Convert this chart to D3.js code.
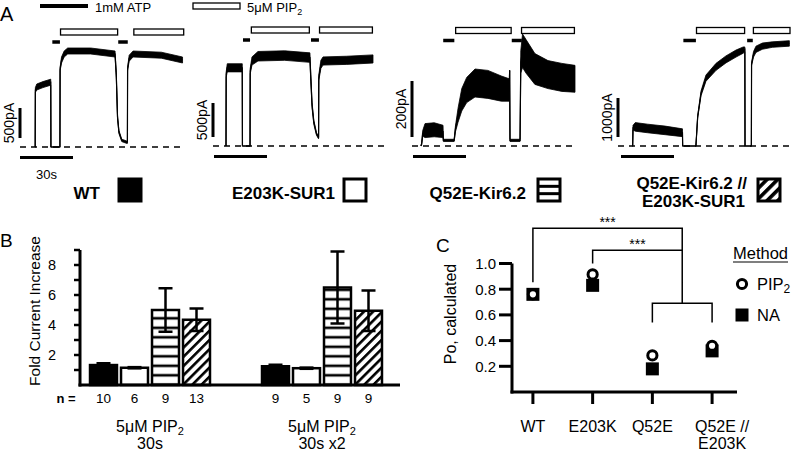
<!DOCTYPE html>
<html>
<head>
<meta charset="utf-8">
<script src="https://cdn.jsdelivr.net/npm/d3@7"></script>
<style>
  body { margin: 0; background: #fff; }
  svg { font-family: "Liberation Sans", Arial, sans-serif; }
</style>
</head>
<body>
<svg id="fig" width="794" height="452"></svg>
<script>
// ---------------- data ----------------
var construct = ["WT", "E203K-SUR1", "Q52E-Kir6.2", "Q52E-Kir6.2 //|E203K-SUR1"];
var agentLabels = ["1mM ATP", "5\u03bcM PIP_2"];
var scaleBarPA = [500, 500, 200, 1000];
var timeBarS = 30;

// current traces: [time (s), mean current (pA), noise half-width (pA)]
var traceWT = [
  [8.5, 0, 0], [8.6, 0, 0], [8.7, 950, 40], [9.5, 1000, 50], [13, 1040, 50], [17.4, 1080, 50],
  [17.5, 0, 0], [22.6, 0, 0], [22.7, 1300, 30], [23.5, 1450, 50], [25, 1550, 50], [27, 1600, 50],
  [40, 1600, 50], [53.8, 1550, 50], [54.5, 1200, 40], [55.2, 500, 30], [56, 250, 25], [57.6, 110, 20],
  [60.4, 80, 20], [60.8, 80, 20], [60.9, 1300, 30], [61.8, 1480, 50], [64, 1550, 50], [80, 1530, 50],
  [92, 1450, 50]
];
var traceE203K = [
  [6.8, 0, 0], [6.9, 1050, 40], [7.5, 1150, 60], [16, 1150, 60], [16.1, 0, 0], [20.4, 0, 0],
  [20.5, 1100, 40], [21.5, 1250, 60], [24.9, 1320, 70], [40, 1330, 70], [54.3, 1300, 70],
  [54.8, 1000, 50], [55.5, 600, 40], [56.5, 350, 30], [58, 180, 20], [59.2, 120, 15],
  [59.3, 1000, 40], [60.5, 1200, 60], [61.7, 1250, 60], [75, 1260, 60], [90, 1280, 60]
];
var traceQ52E = [
  [4.5, 0, 0], [4.9, 8, 4], [5.5, 45, 10], [6.8, 55, 25], [12, 58, 25], [17, 52, 22],
  [17.2, 20, 4], [23.3, 20, 4], [24, 60, 10], [25.5, 110, 25], [27.6, 165, 40], [30.4, 200, 45],
  [35.1, 225, 50], [42.4, 220, 50], [50, 205, 45], [54.5, 200, 40], [54.7, 270, 0],
  [54.9, 20, 4], [60.6, 20, 4], [61, 300, 40], [62, 340, 60], [64, 320, 60], [69, 275, 55],
  [76.4, 255, 50], [84.3, 245, 50], [91.7, 240, 48]
];
var traceQ52E_E203K = [
  [6.4, 0, 0], [6.6, 0, 0], [6.8, 470, 60], [8.1, 490, 110], [15, 450, 110], [25, 400, 110],
  [34.8, 340, 100], [34.9, 0, 0], [42.4, 0, 0], [43.4, 750, 30], [45.3, 1350, 60],
  [48.1, 1740, 80], [53.8, 2030, 90], [59.4, 2220, 90], [65.1, 2370, 90], [69.2, 2460, 80],
  [70.1, 2480, 60], [70.2, 0, 0], [73.8, 0, 0], [73.9, 2100, 40], [75, 2350, 70],
  [76.4, 2480, 80], [80, 2560, 80], [85.6, 2600, 70], [95.3, 2630, 70]
];
var traces = [traceWT, traceE203K, traceQ52E, traceQ52E_E203K];

// application intervals (s)
var atpOn = [[[18.3, 22.6], [55.6, 61.0]], [[16.4, 20.4], [54.9, 59.4]],
             [[17.1, 23.4], [55.9, 61.6]], [[35.3, 42.4], [71.4, 74.6]]];
var pipOn = [[[22.6, 55.6], [64.1, 93.0]], [[20.8, 54.3], [59.4, 90.0]],
             [[23.8, 55.9], [61.1, 91.7]], [[42.4, 70.3], [74.6, 96.0]]];

// panel B
var foldGroups = ["5\u03bcM PIP_2|30s", "5\u03bcM PIP_2|30s x2"];
var foldMean = [[1.33, 1.15, 5.0, 4.35], [1.25, 1.12, 6.5, 4.95]];
var foldErr  = [[0.12, 0.04, 1.45, 0.75], [0.1, 0.04, 2.4, 1.35]];
var nCells   = [[10, 6, 9, 13], [9, 5, 9, 9]];
var foldTicks = [2, 4, 6, 8];

// panel C
var poCats = ["WT", "E203K", "Q52E", "Q52E //|E203K"];
var poPIP2 = [0.76, 0.915, 0.285, 0.36];
var poNA   = [0.76, 0.83, 0.18, 0.32];
var poTicks = [0.2, 0.4, 0.6, 0.8, 1.0];
var methods = ["PIP_2", "NA"];

// ---------------- layout ----------------
var traceLayout = [
  { x0: 20,  base: 147, barPx: 30, sbX: 20,  dashEnd: 185, top: 29,   legBox: 119, legText: 100 },
  { x0: 214, base: 146, barPx: 34, sbX: 213, dashEnd: 385, top: 27,   legBox: 344, legText: 335 },
  { x0: 413, base: 146, barPx: 56, sbX: 412, dashEnd: 575, top: 27.5, legBox: 538, legText: 526 },
  { x0: 621, base: 146, barPx: 39, sbX: 618, dashEnd: 792, top: 27.5, legBox: 758, legText: 747 }
];
var timeBarPx = 53;

var svg = d3.select("#fig");

// pattern defs
var defs = svg.append("defs");
var hp = defs.append("pattern").attr("id", "hstripe").attr("patternUnits", "userSpaceOnUse")
  .attr("width", 10).attr("height", 9.5);
hp.append("rect").attr("width", 10).attr("height", 9.5).attr("fill", "#fff");
hp.append("rect").attr("y", 3.5).attr("width", 10).attr("height", 2.6).attr("fill", "#000");
var dp = defs.append("pattern").attr("id", "diag").attr("patternUnits", "userSpaceOnUse")
  .attr("width", 6.5).attr("height", 6.5).attr("patternTransform", "rotate(45)");
dp.append("rect").attr("width", 6.5).attr("height", 6.5).attr("fill", "#fff");
dp.append("rect").attr("width", 2.6).attr("height", 6.5).attr("fill", "#000");
var dpL = defs.append("pattern").attr("id", "diagL").attr("patternUnits", "userSpaceOnUse")
  .attr("width", 7.5).attr("height", 7.5).attr("patternTransform", "rotate(45)");
dpL.append("rect").attr("width", 7.5).attr("height", 7.5).attr("fill", "#fff");
dpL.append("rect").attr("width", 3.6).attr("height", 7.5).attr("fill", "#000");

var fills = ["#000", "#fff", "url(#hstripe)", "url(#diag)"];

// text with "_2" subscripts
function richText(sel, str, subSize) {
  var parts = str.split(/_(\d)/);
  parts.forEach(function(p, k) {
    if (!p) return;
    if (k % 2 === 1) {
      sel.append("tspan").attr("font-size", subSize).attr("dy", 3).text(p);
    } else {
      var t = sel.append("tspan").text(p);
      if (k > 0) t.attr("dy", -3);
    }
  });
  return sel;
}

function label(x, y, txt, size, opts) {
  opts = opts || {};
  var t = svg.append("text").attr("x", x).attr("y", y)
    .attr("font-size", size)
    .attr("text-anchor", opts.anchor || "start")
    .attr("font-weight", opts.bold ? "bold" : null);
  if (opts.rotate) {
    t.attr("transform", "rotate(-90," + x + "," + y + ")");
  }
  richText(t, txt, Math.round(size * 0.7));
  return t;
}

// ---------------- panel A ----------------
label(0, 21, "A", 20);
// agent legend
svg.append("line").attr("x1", 40).attr("x2", 88).attr("y1", 6).attr("y2", 6)
  .attr("stroke", "#000").attr("stroke-width", 4);
label(95, 12, agentLabels[0], 13);
svg.append("rect").attr("x", 193).attr("y", 3).attr("width", 47).attr("height", 6)
  .attr("fill", "#fff").attr("stroke", "#000").attr("stroke-width", 1.3);
label(247, 12, agentLabels[1], 13);

traceLayout.forEach(function(p, i) {
  var g = svg.append("g");
  var x = d3.scaleLinear().domain([0, timeBarS]).range([p.x0, p.x0 + timeBarPx]);
  var y = d3.scaleLinear().domain([0, scaleBarPA[i]]).range([p.base, p.base - p.barPx]);

  // zero-current line
  g.append("line").attr("x1", p.sbX).attr("x2", p.dashEnd).attr("y1", y(0)).attr("y2", y(0))
    .attr("stroke", "#000").attr("stroke-width", 1.4).attr("stroke-dasharray", "6,5");

  // trace: noise envelope + mean
  var tr = traces[i];
  g.append("path").datum(tr)
    .attr("d", d3.area().x(function(d) { return x(d[0]); })
      .y0(function(d) { return y(d[1] - d[2]); })
      .y1(function(d) { return y(d[1] + d[2]); }))
    .attr("fill", "#000").attr("stroke", "#000").attr("stroke-width", 0.8);
  g.append("path").datum(tr)
    .attr("d", d3.line().x(function(d) { return x(d[0]); }).y(function(d) { return y(d[1]); }))
    .attr("fill", "none").attr("stroke", "#000").attr("stroke-width", 1.2);

  // ATP bars
  g.selectAll("line.atp").data(atpOn[i]).enter().append("line").attr("class", "atp")
    .attr("x1", function(d) { return x(d[0]); }).attr("x2", function(d) { return x(d[1]); })
    .attr("y1", p.top + 13).attr("y2", p.top + 13)
    .attr("stroke", "#000").attr("stroke-width", 3.5);
  // PIP2 boxes
  g.selectAll("rect.pip").data(pipOn[i]).enter().append("rect").attr("class", "pip")
    .attr("x", function(d) { return x(d[0]) + 0.6; })
    .attr("width", function(d) { return x(d[1]) - x(d[0]) - 1.2; })
    .attr("y", p.top).attr("height", 6)
    .attr("fill", "#fff").attr("stroke", "#000").attr("stroke-width", 1.3);

  // scale bars
  g.append("line").attr("x1", p.sbX).attr("x2", p.sbX)
    .attr("y1", y(0) - 9).attr("y2", y(scaleBarPA[i]) - 9)
    .attr("stroke", "#000").attr("stroke-width", 3);
  label(p.sbX - 6, y(scaleBarPA[i] / 2) - 9, scaleBarPA[i] + "pA", 14, { anchor: "middle", rotate: true });
  g.append("line").attr("x1", x(0)).attr("x2", x(timeBarS))
    .attr("y1", p.base + 10.5).attr("y2", p.base + 10.5)
    .attr("stroke", "#000").attr("stroke-width", 3);
  if (i === 0) label(x(timeBarS / 2), p.base + 32, timeBarS + "s", 13, { anchor: "middle" });

  // construct legend
  var lines = construct[i].split("|");
  if (lines.length === 1) {
    label(p.legText, 199, lines[0], 17, { anchor: "end", bold: true });
  } else {
    label(p.legText, 189, lines[0], 17, { anchor: "end", bold: true });
    label(p.legText - 2, 207, lines[1], 17, { anchor: "end", bold: true });
  }
  var bw = 22, bh = 22, by0 = 179;
  var box = svg.append("rect").attr("x", p.legBox).attr("y", by0).attr("width", bw).attr("height", bh)
    .attr("stroke", "#000").attr("stroke-width", 3);
  if (i === 0) box.attr("fill", "#000");
  else if (i === 1) box.attr("fill", "#fff");
  else if (i === 2) {
    box.attr("fill", "#fff");
    [1, 2].forEach(function(k) {
      svg.append("line").attr("x1", p.legBox).attr("x2", p.legBox + bw)
        .attr("y1", by0 + k * bh / 3).attr("y2", by0 + k * bh / 3)
        .attr("stroke", "#000").attr("stroke-width", 3);
    });
  } else box.attr("fill", "url(#diagL)");
});

// ---------------- panel B ----------------
label(0, 247, "B", 19);
var bx0 = d3.scaleBand().domain(foldGroups).range([88, 384]).paddingInner(0.279);
var bx1 = d3.scaleBand().domain(d3.range(4)).range([0, bx0.bandwidth()])
  .paddingInner(0.13).paddingOuter(0.065);
var by = d3.scaleLinear().domain([0, 9]).range([385, 250]);

var gB = svg.append("g");
foldGroups.forEach(function(grp, gi) {
  var gg = gB.append("g").attr("transform", "translate(" + bx0(grp) + ",0)");
  var rows = foldMean[gi].map(function(v, k) {
    return { k: k, v: v, e: foldErr[gi][k], n: nCells[gi][k] };
  });
  gg.selectAll("rect").data(rows).enter().append("rect")
    .attr("x", function(d) { return bx1(d.k); })
    .attr("width", bx1.bandwidth())
    .attr("y", function(d) { return by(d.v); })
    .attr("height", function(d) { return by(0) - by(d.v); })
    .attr("fill", function(d) { return fills[d.k]; })
    .attr("stroke", "#000").attr("stroke-width", 2.5);
  var eb = gg.selectAll("g.err").data(rows).enter().append("g").attr("class", "err")
    .attr("transform", function(d) { return "translate(" + (bx1(d.k) + bx1.bandwidth() / 2) + ",0)"; });
  eb.append("line").attr("y1", function(d) { return by(d.v - d.e); })
    .attr("y2", function(d) { return by(d.v + d.e); })
    .attr("stroke", "#000").attr("stroke-width", 2.5);
  eb.append("line").attr("x1", -7).attr("x2", 7)
    .attr("y1", function(d) { return by(d.v + d.e); }).attr("y2", function(d) { return by(d.v + d.e); })
    .attr("stroke", "#000").attr("stroke-width", 2.5);
  eb.append("line").attr("x1", -7).attr("x2", 7)
    .attr("y1", function(d) { return by(d.v - d.e); }).attr("y2", function(d) { return by(d.v - d.e); })
    .attr("stroke", "#000").attr("stroke-width", 2.5);
  rows.forEach(function(d) {
    label(bx0(grp) + bx1(d.k) + bx1.bandwidth() / 2, 403, String(d.n), 13.5, { anchor: "middle" });
  });
  var gl = grp.split("|");
  label(bx0(grp) + bx0.bandwidth() / 2, 432, gl[0], 16, { anchor: "middle" });
  label(bx0(grp) + bx0.bandwidth() / 2, 449, gl[1], 16, { anchor: "middle" });
});
label(66, 403, "n =", 13, { anchor: "middle", bold: true });

// axes B
gB.append("line").attr("x1", 80).attr("x2", 80).attr("y1", by(9)).attr("y2", by(0) + 1.5)
  .attr("stroke", "#000").attr("stroke-width", 3);
gB.append("line").attr("x1", 78.5).attr("x2", 400).attr("y1", by(0)).attr("y2", by(0))
  .attr("stroke", "#000").attr("stroke-width", 3);
gB.selectAll("line.tk").data(d3.range(1, 10)).enter().append("line").attr("class", "tk")
  .attr("x1", 74).attr("x2", 80)
  .attr("y1", function(d) { return by(d); }).attr("y2", function(d) { return by(d); })
  .attr("stroke", "#000").attr("stroke-width", 2.5);
foldTicks.forEach(function(t) { label(56, by(t) + 5, String(t), 14.5, { anchor: "end" }); });
label(40, 311, "Fold Current Increase", 15.5, { anchor: "middle", rotate: true });

// ---------------- panel C ----------------
label(436, 252, "C", 19);
var cy = d3.scaleLinear().domain([0, 1]).range([392, 263.5]);
var cx = d3.scalePoint().domain(poCats).range([512, 733]).padding(0.35);
var gC = svg.append("g");

gC.append("line").attr("x1", 512).attr("x2", 512).attr("y1", cy(1)).attr("y2", cy(0) + 1.5)
  .attr("stroke", "#000").attr("stroke-width", 3);
gC.append("line").attr("x1", 510.5).attr("x2", 737).attr("y1", cy(0)).attr("y2", cy(0))
  .attr("stroke", "#000").attr("stroke-width", 3);
gC.selectAll("line.yt").data(poTicks).enter().append("line").attr("class", "yt")
  .attr("x1", 499).attr("x2", 512)
  .attr("y1", function(d) { return cy(d); }).attr("y2", function(d) { return cy(d); })
  .attr("stroke", "#000").attr("stroke-width", 3);
poTicks.forEach(function(t) { label(496, cy(t) + 5.5, d3.format(".1f")(t), 15, { anchor: "end" }); });
gC.selectAll("line.xt").data(poCats).enter().append("line").attr("class", "xt")
  .attr("x1", function(d) { return cx(d); }).attr("x2", function(d) { return cx(d); })
  .attr("y1", cy(0)).attr("y2", cy(0) + 12)
  .attr("stroke", "#000").attr("stroke-width", 3);
poCats.forEach(function(c) {
  var ls = c.split("|");
  var dx = ls.length > 1 ? 10 : 0;
  label(cx(c) + dx, 432, ls[0], 16, { anchor: "middle" });
  if (ls[1]) label(cx(c) + dx, 449, ls[1], 16, { anchor: "middle" });
});
label(456, 314, "Po, calculated", 16, { anchor: "middle", rotate: true });

// significance brackets
var mid = (cx(poCats[2]) + cx(poCats[3])) / 2;
function path(pts) {
  gC.append("path").attr("d", d3.line()(pts)).attr("fill", "none")
    .attr("stroke", "#000").attr("stroke-width", 1.5);
}
path([[cx(poCats[0]), cy(0.855)], [cx(poCats[0]), cy(1.275)], [mid, cy(1.275)], [mid, cy(0.69)]]);
path([[cx(poCats[1]), cy(1.0)], [cx(poCats[1]), cy(1.104)], [mid, cy(1.104)]]);
path([[cx(poCats[2]), cy(0.54)], [cx(poCats[2]), cy(0.69)], [cx(poCats[3]), cy(0.69)], [cx(poCats[3]), cy(0.54)]]);
label((cx(poCats[0]) + mid) / 2, cy(1.275) - 1, "***", 14, { anchor: "middle" });
label((cx(poCats[1]) + mid) / 2, cy(1.104) - 1, "***", 14, { anchor: "middle" });

// markers
gC.selectAll("rect.na").data(poNA).enter().append("rect").attr("class", "na")
  .attr("x", function(d, i) { return cx(poCats[i]) - 6.5; })
  .attr("y", function(d) { return cy(d) - 6.5; })
  .attr("width", 13).attr("height", 13).attr("fill", "#000");
gC.selectAll("circle.pip").data(poPIP2).enter().append("circle").attr("class", "pip")
  .attr("cx", function(d, i) { return cx(poCats[i]); })
  .attr("cy", function(d) { return cy(d); })
  .attr("r", 4.6).attr("fill", "#fff").attr("stroke", "#000").attr("stroke-width", 3);

// legend C
label(733, 259, "Method", 16.5);
gC.append("line").attr("x1", 733).attr("x2", 788).attr("y1", 262).attr("y2", 262)
  .attr("stroke", "#000").attr("stroke-width", 1.2);
gC.append("circle").attr("cx", 742).attr("cy", 284).attr("r", 4.6)
  .attr("fill", "#fff").attr("stroke", "#000").attr("stroke-width", 3);
label(757, 290, methods[0], 16.5);
gC.append("rect").attr("x", 735.5).attr("y", 308.5).attr("width", 13).attr("height", 13).attr("fill", "#000");
label(757, 321, methods[1], 16.5);
</script>
</body>
</html>
